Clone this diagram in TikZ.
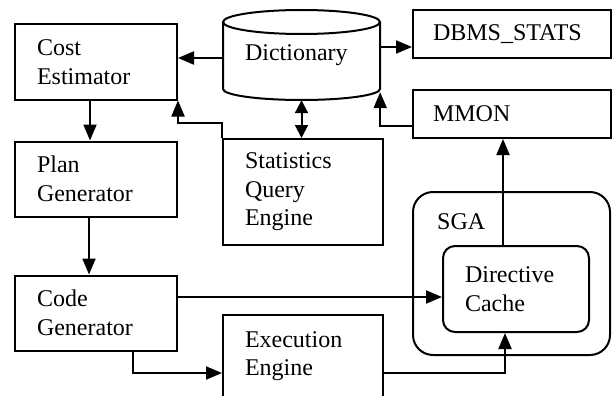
\documentclass[tikz,border=0pt]{standalone}
\usepackage{fontspec}
\setmainfont{Liberation Serif}
\usetikzlibrary{arrows.meta,positioning}
\tikzstyle{arrow} = [line width=2pt,-{Triangle[length=16pt,width=13pt]},draw=black]
\tikzstyle{block} = [draw,line width=2pt,rectangle,align=left,inner xsep=22pt,inner ysep=0pt]
\tikzstyle{dblarrow} = [line width=2pt,{Triangle[length=13pt,width=13pt]}-{Triangle[length=13pt,width=13pt]}]

\begin{document}
\begin{tikzpicture}[x=1pt,y=-1pt,font=\fontsize{24}{28.5}\selectfont]
    \useasboundingbox (0,0) rectangle (613,396);

    % optimizer column
    \node[block,text width=118pt,minimum height=75pt] (cost) at (96,62) {\raisebox{-4pt}{Cost}\\\raisebox{-4pt}{Estimator}};
    \node[block,text width=118pt,minimum height=75pt,below=40pt of cost] (plan) {Plan\\Generator};
    \node[block,text width=118pt,minimum height=75pt,below=57pt of plan] (code) {Code\\Generator};

    % dictionary and engines
    \node[align=left,text width=113pt,inner xsep=22pt,minimum height=90pt] (dict) at (301.5,55) {Dictionary};
    \draw[line width=2pt] (301.5,22) ellipse [x radius=78.5pt,y radius=12pt];
    \draw[line width=2pt] (223,22) -- (223,89) arc[start angle=180,end angle=360,x radius=78.5pt,y radius=11pt] -- (380,22);
    \node[block,text width=116pt,minimum height=106pt] (stats) at (303,192) {Statistics\\Query\\Engine};
    \node[block,text width=116pt,minimum height=82pt] (exec) at (303,356) {Execution\\Engine};

    % right side
    \node[block,text width=158pt,inner xsep=20pt,minimum height=48pt] (dbms) at (512,34) {DBMS\_STATS};
    \node[block,text width=158pt,inner xsep=20pt,minimum height=48pt] (mmon) at (512,114) {MMON};
    \node[draw,line width=2pt,rounded corners=20pt,minimum width=197pt,minimum height=163pt] (sga) at (511.5,273.5) {};
    \node[anchor=west,inner sep=0pt] (sgatext) at ([xshift=25pt,yshift=-31pt]sga.north west) {SGA};
    \node[block,rounded corners=12pt,text width=102pt,minimum height=86pt] (cache) at (516,289) {Directive\\Cache};

    \draw[arrow] ([yshift=-3pt]dict.west) -- ([yshift=-3pt]dict.west -| cost.east);
    \draw[arrow] ([yshift=8pt]dict.east) -- ([yshift=8pt]dict.east -| dbms.west);
    \draw[arrow] ([yshift=-12pt]mmon.west) -| ([yshift=8pt]dict.south east);
    \draw[dblarrow] (dict.south) -- (dict.south |- stats.north);
    \draw[arrow] (stats.north west) -- ++(0,-15) -| (cost.south east);
    \draw[arrow] ([xshift=-6pt]cost.south) -- ([xshift=-6pt]plan.north);
    \draw[arrow] ([xshift=-7pt]plan.south) -- ([xshift=-7pt]code.north);
    \draw[arrow] ([yshift=16pt]code.east) -- ([yshift=16pt]code.east -| cache.west);
    \draw[arrow] ([xshift=37pt]code.south) |- ([yshift=-17pt]exec.west);
    \draw[arrow] ([yshift=-17pt]exec.east) -| ([xshift=-11pt]cache.south);
    \draw[arrow] ([xshift=-13pt]cache.north) -- ([xshift=-13pt]cache.north |- mmon.south);

\end{tikzpicture}
\end{document}
